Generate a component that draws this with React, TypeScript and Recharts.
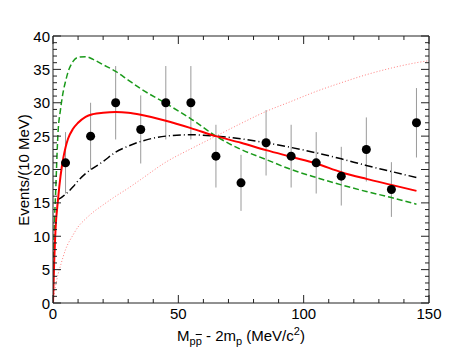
import React from 'react';
import { ComposedChart, Line, Scatter, ErrorBar, XAxis, YAxis } from 'recharts';

// measured bins (10 MeV wide)
const binCenters = [5, 15, 25, 35, 45, 55, 65, 75, 85, 95, 105, 115, 125, 135, 145];
const binCounts = [21, 25, 30, 26, 30, 30, 22, 18, 24, 22, 21, 19, 23, 17, 27];
const binErrors = [4.6, 5.0, 5.5, 5.1, 5.5, 5.5, 4.7, 4.2, 4.9, 4.7, 4.6, 4.4, 4.8, 4.1, 5.2];

// fit curves
const curveX = [0, 0.5, 1, 2, 3, 4, 5, 6, 8, 10, 13, 16, 20, 25, 30, 35, 45, 55, 65, 75, 85, 95, 105, 115, 125, 135, 145];
const redFit = [0, 6.5, 11, 15.5, 19, 21.5, 23.3, 24.6, 26.1, 27, 27.9, 28.3, 28.5, 28.6, 28.5, 28.2, 27.3, 26.2, 25, 24, 22.9, 21.9, 20.9, 19.6, 18.6, 17.7, 16.8];
const greenFit = [0, 11, 16, 25.5, 29, 31.5, 33.2, 34.6, 36.2, 36.8, 36.9, 36.5, 35.7, 34.7, 33.4, 32.1, 29.9, 27.6, 25, 23, 21.5, 20, 18.8, 17.7, 16.7, 15.8, 14.8];

const blackX = [2, 3, 5, 8, 10, 13, 16, 20, 25, 30, 35, 45, 55, 65, 75, 85, 95, 105, 115, 125, 135, 145];
const blackFit = [15.5, 15.7, 16.3, 17.4, 18.3, 19.4, 20.2, 21.2, 22.6, 23.5, 24.2, 25, 25.2, 25, 24.6, 24.0, 23.3, 22.5, 21.6, 20.6, 19.7, 18.8];

const phaseX = [0, 0.5, 1, 2, 3, 5, 8, 10, 13, 16, 20, 25, 30, 35, 45, 55, 65, 75, 85, 95, 105, 115, 125, 135, 145, 150];
const phaseFit = [0, 1.5, 2.5, 4.3, 5.6, 8, 10.2, 11.4, 12.6, 13.6, 14.7, 16, 17.2, 18.5, 21.1, 23.1, 25, 26.9, 28.7, 30.2, 31.7, 33.0, 34.2, 35.2, 36.0, 36.3];

const xTicks = [0, 10, 20, 30, 40, 50, 60, 70, 80, 90, 100, 110, 120, 130, 140, 150];
const yTicks = Array.from({ length: 41 }, (_, i) => i);

const points = binCenters.map((x, i) => ({ x, y: binCounts[i], err: binErrors[i] }));
const toXY = (xs: number[], ys: number[]) => xs.map((x, i) => ({ x, y: ys[i] }));

const FONT = '"Liberation Sans", Arial, sans-serif';
const AXIS = '#222';

const BottomTick = (props: any) => {
  const { x, y, payload } = props;
  const major = payload.value % 50 === 0;
  return (
    <g>
      <line x1={x} x2={x} y1={y} y2={y - (major ? 8 : 4)} stroke={AXIS} />
      {major && (
        <text x={x} y={y + 16} textAnchor="middle" fontSize={15} fontFamily={FONT} fill="#000">
          {payload.value}
        </text>
      )}
    </g>
  );
};

const TopTick = (props: any) => {
  const { x, y, payload } = props;
  const major = payload.value % 50 === 0;
  return <line x1={x} x2={x} y1={y} y2={y + (major ? 8 : 4)} stroke={AXIS} />;
};

const LeftTick = (props: any) => {
  const { x, y, payload } = props;
  const major = payload.value % 5 === 0;
  return (
    <g>
      <line x1={x} x2={x + (major ? 8 : 4)} y1={y} y2={y} stroke={AXIS} />
      {major && (
        <text x={x - 3} y={y + 5.5} textAnchor="end" fontSize={15} fontFamily={FONT} fill="#000">
          {payload.value}
        </text>
      )}
    </g>
  );
};

const RightTick = (props: any) => {
  const { x, y, payload } = props;
  const major = payload.value % 5 === 0;
  return <line x1={x} x2={x - (major ? 8 : 4)} y1={y} y2={y} stroke={AXIS} />;
};

const Dot = (props: any) => <circle cx={props.cx} cy={props.cy} r={4.5} fill="#000" />;

export default function App() {
  return (
    <div style={{ position: 'absolute', left: 0, top: 0, width: 463, height: 358, background: '#fff', fontFamily: FONT }}>
      <ComposedChart width={463} height={358} margin={{ top: 35, right: 33, bottom: 54, left: 52 }}>
        <XAxis
          xAxisId="bottom"
          type="number"
          dataKey="x"
          domain={[0, 150]}
          ticks={xTicks}
          interval={0}
          height={1}
          tickSize={0}
          tickMargin={0}
          tickLine={false}
          axisLine={{ stroke: AXIS }}
          tick={<BottomTick />}
          allowDataOverflow
        />
        <XAxis
          xAxisId="top"
          orientation="top"
          type="number"
          dataKey="x"
          domain={[0, 150]}
          ticks={xTicks}
          interval={0}
          height={1}
          tickSize={0}
          tickMargin={0}
          tickLine={false}
          axisLine={{ stroke: AXIS }}
          tick={<TopTick />}
          allowDataOverflow
        />
        <YAxis
          yAxisId="left"
          type="number"
          dataKey="y"
          domain={[0, 40]}
          ticks={yTicks}
          interval={0}
          width={1}
          tickSize={0}
          tickMargin={0}
          tickLine={false}
          axisLine={{ stroke: AXIS }}
          tick={<LeftTick />}
          allowDataOverflow
        />
        <YAxis
          yAxisId="right"
          orientation="right"
          type="number"
          dataKey="y"
          domain={[0, 40]}
          ticks={yTicks}
          interval={0}
          width={1}
          tickSize={0}
          tickMargin={0}
          tickLine={false}
          axisLine={{ stroke: AXIS }}
          tick={<RightTick />}
          allowDataOverflow
        />
        <Scatter
          xAxisId="bottom"
          yAxisId="left"
          data={points}
          dataKey="y"
          shape={<Dot />}
          isAnimationActive={false}
        >
          <ErrorBar dataKey="err" direction="y" width={0} stroke="#9a9a9a" strokeWidth={1} isAnimationActive={false} />
        </Scatter>
        <Line
          xAxisId="bottom"
          yAxisId="left"
          data={toXY(phaseX, phaseFit)}
          dataKey="y"
          type="monotone"
          stroke="#ff8080"
          strokeWidth={1}
          strokeDasharray="1 2"
          dot={false}
          activeDot={false}
          isAnimationActive={false}
        />
        <Line
          xAxisId="bottom"
          yAxisId="left"
          data={toXY(blackX, blackFit)}
          dataKey="y"
          type="monotone"
          stroke="#000"
          strokeWidth={1.5}
          strokeDasharray="8 3 1 3"
          dot={false}
          activeDot={false}
          isAnimationActive={false}
        />
        <Line
          xAxisId="bottom"
          yAxisId="left"
          data={toXY(curveX, greenFit)}
          dataKey="y"
          type="monotone"
          stroke="#1a9a1a"
          strokeWidth={1.5}
          strokeDasharray="6 3"
          dot={false}
          activeDot={false}
          isAnimationActive={false}
        />
        <Line
          xAxisId="bottom"
          yAxisId="left"
          data={toXY(curveX, redFit)}
          dataKey="y"
          type="monotone"
          stroke="#ff0000"
          strokeWidth={2}
          dot={false}
          activeDot={false}
          isAnimationActive={false}
        />
      </ComposedChart>
      <div
        style={{
          position: 'absolute',
          left: 23,
          top: 170,
          transform: 'translate(-50%, -50%) rotate(-90deg)',
          whiteSpace: 'nowrap',
          fontSize: 15,
          lineHeight: '15px',
        }}
      >
        Events/(10 MeV)
      </div>
      <div
        style={{
          position: 'absolute',
          left: 241,
          top: 324,
          transform: 'translateX(-50%)',
          whiteSpace: 'nowrap',
          fontSize: 15,
          lineHeight: '15px',
        }}
      >
        M
        <sub style={{ fontSize: 11, verticalAlign: -4 }}>
          p<span style={{ textDecoration: 'overline' }}>p</span>
        </sub>
        {' - 2m'}
        <sub style={{ fontSize: 11, verticalAlign: -4 }}>p</sub>
        {' (MeV/c'}
        <sup style={{ fontSize: 11, verticalAlign: 6 }}>2</sup>
        {')'}
      </div>
    </div>
  );
}
